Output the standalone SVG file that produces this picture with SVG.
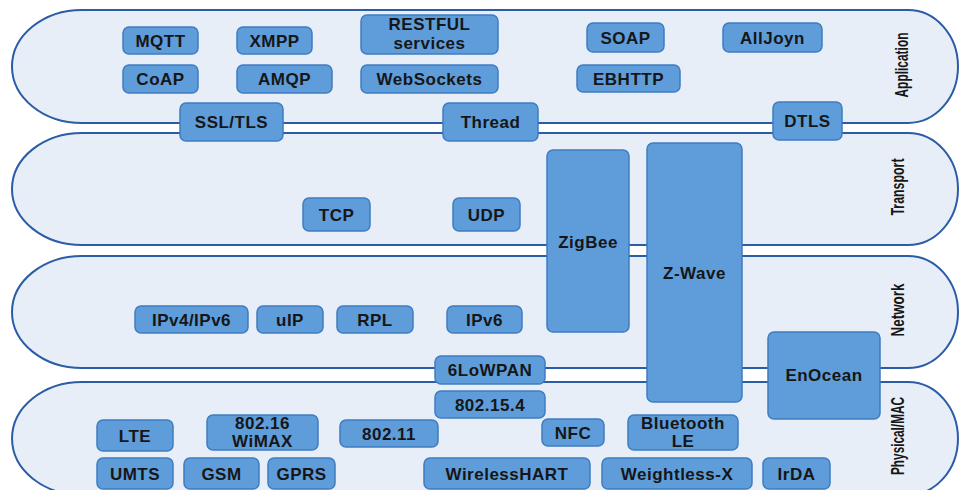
<svg xmlns="http://www.w3.org/2000/svg" width="960" height="490" viewBox="0 0 960 490">
<style>
.band{fill:#e8eef7;stroke:#2b5ca6;stroke-width:2}
.box{fill:#5e9dda;stroke:#3f7cc2;stroke-width:1.5}
.t{font-family:"Liberation Sans",Arial,sans-serif;font-weight:bold;font-size:17px;letter-spacing:0.5px;fill:#161616;text-anchor:middle}
.lab{font-family:"Liberation Sans",Arial,sans-serif;font-weight:bold;font-size:18px;fill:#161616;text-anchor:middle}
</style>
<rect width="960" height="490" fill="#ffffff"/>
<g id="layers">
<g id="layer-application">
<path class="band" d="M82,10 H908 A50,56.5 0 0 1 908,123 H82 A70,56.5 0 0 1 82,10 Z"/>
<text class="lab" transform="translate(902,65) rotate(-90)" y="6" textLength="65" lengthAdjust="spacingAndGlyphs">Application</text>
</g>
<g id="layer-transport">
<path class="band" d="M82,133 H908 A50,56 0 0 1 908,245 H82 A70,56 0 0 1 82,133 Z"/>
<text class="lab" transform="translate(898,187) rotate(-90)" y="6" textLength="57" lengthAdjust="spacingAndGlyphs">Transport</text>
</g>
<g id="layer-network">
<path class="band" d="M82,256 H908 A50,56 0 0 1 908,368 H82 A70,56 0 0 1 82,256 Z"/>
<text class="lab" transform="translate(898,310) rotate(-90)" y="6" textLength="53" lengthAdjust="spacingAndGlyphs">Network</text>
</g>
<g id="layer-physical">
<path class="band" d="M82,382 H908 A50,56.5 0 0 1 908,495 H82 A70,56.5 0 0 1 82,382 Z"/>
<text class="lab" transform="translate(898,436) rotate(-90)" y="6" textLength="78" lengthAdjust="spacingAndGlyphs">Physical/MAC</text>
</g>
</g>
<g id="connectors"></g>
<g id="mqtt"><rect class="box" x="123" y="27" width="75" height="27" rx="6"/><text class="t" x="160.5" y="46.5">MQTT</text></g>
<g id="xmpp"><rect class="box" x="237" y="27" width="75" height="27" rx="6"/><text class="t" x="274.5" y="46.5">XMPP</text></g>
<g id="restful"><rect class="box" x="361" y="15" width="137" height="39" rx="6"/><text class="t" x="429.5" y="30">RESTFUL</text><text class="t" x="429.5" y="49">services</text></g>
<g id="coap"><rect class="box" x="123" y="65" width="75" height="28" rx="6"/><text class="t" x="160.5" y="85">CoAP</text></g>
<g id="amqp"><rect class="box" x="237" y="65" width="95" height="28" rx="6"/><text class="t" x="284.5" y="85">AMQP</text></g>
<g id="websockets"><rect class="box" x="361" y="65" width="137" height="28" rx="6"/><text class="t" x="429.5" y="85">WebSockets</text></g>
<g id="soap"><rect class="box" x="587" y="23" width="77" height="29" rx="6"/><text class="t" x="625.5" y="43.5">SOAP</text></g>
<g id="alljoyn"><rect class="box" x="723" y="23" width="99" height="29" rx="6"/><text class="t" x="772.5" y="43.5">AllJoyn</text></g>
<g id="ebhttp"><rect class="box" x="577" y="65" width="103" height="27" rx="6"/><text class="t" x="628.5" y="84.5">EBHTTP</text></g>
<g id="ssltls"><rect class="box" x="180" y="103" width="103" height="38" rx="6"/><text class="t" x="231.5" y="128">SSL/TLS</text></g>
<g id="thread"><rect class="box" x="443" y="103" width="95" height="38" rx="6"/><text class="t" x="490.5" y="128">Thread</text></g>
<g id="dtls"><rect class="box" x="773" y="102" width="69" height="38" rx="6"/><text class="t" x="807.5" y="127">DTLS</text></g>
<g id="tcp"><rect class="box" x="303" y="198" width="67" height="33" rx="6"/><text class="t" x="336.5" y="220.5">TCP</text></g>
<g id="udp"><rect class="box" x="453" y="198" width="67" height="33" rx="6"/><text class="t" x="486.5" y="220.5">UDP</text></g>
<g id="zigbee"><rect class="box" x="547" y="150" width="82" height="182" rx="6"/><text class="t" x="588" y="248">ZigBee</text></g>
<g id="zwave"><rect class="box" x="647" y="143" width="95" height="259" rx="6"/><text class="t" x="694.5" y="279">Z-Wave</text></g>
<g id="enocean"><rect class="box" x="768" y="332" width="112" height="87" rx="6"/><text class="t" x="824" y="381">EnOcean</text></g>
<g id="ipv4ipv6"><rect class="box" x="135" y="306" width="113" height="27" rx="6"/><text class="t" x="191.5" y="325.5">IPv4/IPv6</text></g>
<g id="uip"><rect class="box" x="257" y="306" width="66" height="27" rx="6"/><text class="t" x="290" y="325.5">uIP</text></g>
<g id="rpl"><rect class="box" x="337" y="306" width="76" height="27" rx="6"/><text class="t" x="375" y="325.5">RPL</text></g>
<g id="ipv6"><rect class="box" x="447" y="306" width="75" height="27" rx="6"/><text class="t" x="484.5" y="325.5">IPv6</text></g>
<g id="sixlowpan"><rect class="box" x="435" y="356" width="110" height="28" rx="6"/><text class="t" x="490" y="376">6LoWPAN</text></g>
<g id="ieee802154"><rect class="box" x="435" y="391" width="110" height="27" rx="6"/><text class="t" x="490" y="410.5">802.15.4</text></g>
<g id="lte"><rect class="box" x="97" y="420" width="76" height="31" rx="6"/><text class="t" x="135" y="441.5">LTE</text></g>
<g id="wimax"><rect class="box" x="207" y="415" width="111" height="35" rx="6"/><text class="t" x="262.5" y="429">802.16</text><text class="t" x="262.5" y="447">WiMAX</text></g>
<g id="ieee80211"><rect class="box" x="340" y="420" width="98" height="27" rx="6"/><text class="t" x="389" y="439.5">802.11</text></g>
<g id="nfc"><rect class="box" x="542" y="419" width="62" height="27" rx="6"/><text class="t" x="573" y="438.5">NFC</text></g>
<g id="bluetoothle"><rect class="box" x="628" y="415" width="110" height="35" rx="6"/><text class="t" x="683" y="429">Bluetooth</text><text class="t" x="683" y="447">LE</text></g>
<g id="umts"><rect class="box" x="97" y="458" width="76" height="31" rx="6"/><text class="t" x="135" y="479.5">UMTS</text></g>
<g id="gsm"><rect class="box" x="184" y="458" width="75" height="31" rx="6"/><text class="t" x="221.5" y="479.5">GSM</text></g>
<g id="gprs"><rect class="box" x="268" y="458" width="67" height="31" rx="6"/><text class="t" x="301.5" y="479.5">GPRS</text></g>
<g id="wirelesshart"><rect class="box" x="424" y="458" width="166" height="31" rx="6"/><text class="t" x="507" y="479.5">WirelessHART</text></g>
<g id="weightlessx"><rect class="box" x="602" y="458" width="150" height="31" rx="6"/><text class="t" x="677" y="479.5">Weightless-X</text></g>
<g id="irda"><rect class="box" x="763" y="458" width="67" height="31" rx="6"/><text class="t" x="796.5" y="479.5">IrDA</text></g>
</svg>
